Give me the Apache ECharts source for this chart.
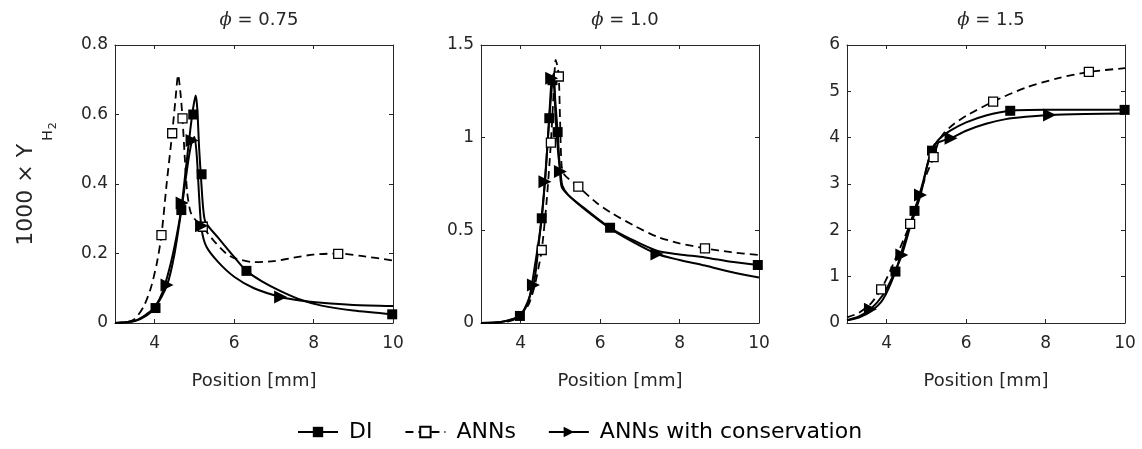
<!DOCTYPE html>
<html>
<head>
<meta charset="utf-8">
<script src="https://cdn.jsdelivr.net/npm/echarts@6/dist/echarts.min.js"></script>
<style>
html,body{margin:0;padding:0;background:#fff;}
#c{width:1142px;height:449px;}
</style>
</head>
<body>
<div id="c"></div>
<script>
// ---------- DATA ----------
const titles = ['0.75', '1.0', '1.5'];
const xTicks = [4, 6, 8, 10];
const yMax = [0.8, 1.5, 6];
const yStep = [0.2, 0.5, 1];
const seriesNames = ['DI', 'ANNs', 'ANNs with conservation'];

// Panel 1: phi = 0.75
const p1DI = [[3,0],[3.5,0.006],[3.8,0.022],[4.0,0.045],[4.2,0.09],[4.4,0.17],[4.55,0.25],[4.67,0.33],[4.8,0.46],[4.9,0.56],[4.97,0.62],[5.03,0.655],[5.07,0.62],[5.12,0.5],[5.17,0.41],[5.22,0.33],[5.28,0.29],[5.6,0.245],[6.0,0.19],[6.31,0.15],[6.7,0.12],[7.17,0.092],[7.7,0.066],[8.2,0.05],[9.0,0.036],[10,0.025]];
const p1ANN = [[3,0],[3.3,0.003],[3.5,0.012],[3.72,0.047],[3.9,0.1],[4.05,0.17],[4.17,0.253],[4.3,0.4],[4.44,0.546],[4.52,0.64],[4.59,0.714],[4.65,0.66],[4.7,0.589],[4.76,0.47],[4.82,0.373],[4.9,0.32],[5.0,0.3],[5.2,0.277],[5.5,0.235],[5.8,0.2],[6.0,0.187],[6.5,0.175],[7.0,0.178],[7.5,0.188],[8.0,0.197],[8.62,0.2],[9.2,0.193],[10,0.18]];
const p1CON = [[3,0],[3.5,0.006],[4.0,0.045],[4.31,0.109],[4.5,0.2],[4.69,0.34],[4.85,0.47],[4.94,0.525],[5.0,0.535],[5.06,0.48],[5.12,0.36],[5.18,0.27],[5.3,0.22],[5.6,0.175],[6.0,0.133],[6.5,0.1],[7.17,0.075],[7.7,0.064],[8.2,0.058],[9.0,0.052],[10,0.049]];
const p1DIm = {x:[4.02,4.67,4.97,5.18,6.31,9.98], y:[0.043,0.325,0.60,0.428,0.15,0.025]};
const p1ANNm = {x:[4.17,4.44,4.70,5.21,8.62], y:[0.253,0.546,0.589,0.277,0.199]};
const p1CONm = {x:[4.31,4.69,4.94,5.18,7.17], y:[0.109,0.345,0.525,0.28,0.075]};

// Panel 2: phi = 1.0
const p2DI = [[3,0],[3.5,0.005],[3.8,0.02],[4.0,0.04],[4.2,0.12],[4.35,0.3],[4.53,0.565],[4.62,0.8],[4.72,1.105],[4.8,1.31],[4.83,1.345],[4.87,1.2],[4.93,1.03],[4.98,0.85],[5.03,0.735],[5.2,0.69],[5.6,0.62],[6.25,0.514],[6.8,0.45],[7.43,0.39],[8.0,0.37],[8.64,0.354],[9.3,0.33],[10,0.313]];
const p2ANN = [[3,0],[3.5,0.004],[3.8,0.015],[4.0,0.045],[4.2,0.1],[4.35,0.2],[4.45,0.3],[4.53,0.394],[4.65,0.65],[4.76,0.973],[4.83,1.25],[4.88,1.42],[4.93,1.38],[4.96,1.33],[4.99,1.1],[5.03,0.85],[5.1,0.8],[5.45,0.736],[5.9,0.65],[6.3,0.592],[6.9,0.52],[7.43,0.466],[8.0,0.43],[8.64,0.403],[9.3,0.382],[10,0.367]];
const p2CON = [[3,0],[3.5,0.005],[4.0,0.045],[4.32,0.205],[4.45,0.42],[4.61,0.762],[4.7,1.05],[4.78,1.32],[4.82,1.33],[4.88,1.1],[4.95,0.9],[5.0,0.817],[5.05,0.74],[5.2,0.69],[5.6,0.615],[6.25,0.51],[6.8,0.44],[7.43,0.372],[8.0,0.34],[8.64,0.31],[9.3,0.275],[10,0.245]];
const p2DIm = {x:[3.98,4.53,4.72,4.80,4.93,6.25,9.97], y:[0.038,0.565,1.105,1.31,1.03,0.514,0.313]};
const p2ANNm = {x:[4.53,4.76,4.96,5.45,8.64], y:[0.394,0.973,1.33,0.736,0.403]};
const p2CONm = {x:[4.32,4.61,4.78,5.0,7.43], y:[0.205,0.762,1.32,0.817,0.372]};

// Panel 3: phi = 1.5
const p3DI = [[3,0.06],[3.3,0.12],[3.6,0.25],[3.9,0.5],[4.22,1.11],[4.45,1.75],[4.7,2.42],[4.9,3.0],[5.05,3.5],[5.14,3.72],[5.3,3.95],[5.6,4.15],[6.0,4.33],[6.5,4.48],[7.11,4.58],[8.0,4.6],[9.0,4.6],[10,4.6]];
const p3ANN = [[3,0.12],[3.3,0.22],[3.6,0.42],[3.86,0.727],[4.1,1.15],[4.35,1.65],[4.59,2.14],[4.8,2.7],[5.0,3.2],[5.18,3.58],[5.3,3.9],[5.43,4.09],[5.7,4.3],[6.0,4.47],[6.68,4.78],[7.5,5.08],[8.3,5.28],[9.09,5.42],[10,5.5]];
const p3CON = [[3,0.06],[3.3,0.14],[3.59,0.295],[3.9,0.6],[4.15,1.0],[4.38,1.47],[4.6,2.1],[4.85,2.76],[5.05,3.5],[5.2,3.85],[5.4,3.93],[5.62,3.99],[6.0,4.15],[6.5,4.3],[7.0,4.4],[7.5,4.45],[8.1,4.49],[9.0,4.51],[10,4.52]];
const p3DIm = {x:[4.22,4.70,5.14,7.11,9.99], y:[1.11,2.42,3.72,4.58,4.6]};
const p3ANNm = {x:[3.86,4.59,5.18,6.68,9.09], y:[0.727,2.14,3.58,4.78,5.42]};
const p3CONm = {x:[3.59,4.38,4.85,5.62,8.10], y:[0.295,1.47,2.76,3.99,4.49]};

const curves = [[p1DI,p1ANN,p1CON],[p2DI,p2ANN,p2CON],[p3DI,p3ANN,p3CON]];
const markers = [[p1DIm,p1ANNm,p1CONm],[p2DIm,p2ANNm,p2CONm],[p3DIm,p3ANNm,p3CONm]];

// ---------- STYLE / LAYOUT ----------
const FONT = 'DejaVu Sans';
const TXT = '#262626';
const gridLeft = [115, 481, 847];
const GT = 45, GW = 278, GH = 278;

const grids = [], xAxes = [], yAxes = [], series = [], titleArr = [];
const lineStyles = [
  {color:'#000', width:2, type:'solid'},
  {color:'#000', width:1.8, type:[8,5]},
  {color:'#000', width:2, type:'solid'}
];
const symInfo = [
  {symbol:'rect', size:10, rotate:0, item:{color:'#000', opacity:1}},
  {symbol:'rect', size:9, rotate:0, item:{color:'#fff', borderColor:'#000', borderWidth:1.3, opacity:1}},
  {symbol:'triangle', size:[13,13], rotate:-90, item:{color:'#000', opacity:1}}
];

for (let p = 0; p < 3; p++) {
  grids.push({left:gridLeft[p], top:GT, width:GW, height:GH, show:false});
  const baseX = {gridIndex:p, type:'value', min:3, max:10,
    axisLine:{show:true, onZero:false, lineStyle:{color:TXT, width:1}},
    axisTick:{show:true, inside:true, length:4, customValues:xTicks, lineStyle:{color:TXT}},
    splitLine:{show:false}};
  xAxes.push(Object.assign({}, baseX, {position:'bottom',
    axisLabel:{show:true, customValues:xTicks, color:TXT, fontFamily:FONT, fontSize:17, margin:12},
    name:'Position [mm]', nameLocation:'middle', nameGap:49,
    nameTextStyle:{color:TXT, fontFamily:FONT, fontSize:18}}));
  xAxes.push(Object.assign({}, baseX, {position:'top', axisLabel:{show:false}}));
  const baseY = {gridIndex:p, type:'value', min:0, max:yMax[p], interval:yStep[p],
    axisLine:{show:true, onZero:false, lineStyle:{color:TXT, width:1}},
    axisTick:{show:true, inside:true, length:4, lineStyle:{color:TXT}},
    splitLine:{show:false}};
  const yl = Object.assign({}, baseY, {position:'left',
    axisLabel:{show:true, color:TXT, fontFamily:FONT, fontSize:17, margin:7}});
  if (p === 0) {
    Object.assign(yl, {
      name:'{a|1000 × Y}{b|H}{c|2}', nameLocation:'middle', nameRotate:90, nameGap:76,
      nameTextStyle:{color:TXT, fontFamily:FONT, fontSize:22,
        rich:{
          a:{fontFamily:FONT, fontSize:22, color:TXT, verticalAlign:'top', lineHeight:24},
          b:{fontFamily:FONT, fontSize:14, color:TXT, verticalAlign:'top', lineHeight:16, padding:[26,0,0,3]},
          c:{fontFamily:FONT, fontSize:11, color:TXT, verticalAlign:'top', lineHeight:12, padding:[33,0,0,1]}
        }}
    });
  }
  yAxes.push(yl);
  yAxes.push(Object.assign({}, baseY, {position:'right', axisLabel:{show:false}}));

  titleArr.push({
    text:'{i|\u03D5} = ' + titles[p],
    left: gridLeft[p] + GW/2, top: 6, textAlign:'center',
    textStyle:{fontFamily:FONT, fontSize:18, fontWeight:'normal', color:TXT,
      rich:{i:{fontFamily:'DejaVu Serif', fontStyle:'italic', fontSize:18, color:TXT}}}
  });

  for (let s = 0; s < 3; s++) {
    series.push({
      name: seriesNames[s], type:'line', xAxisIndex:2*p, yAxisIndex:2*p,
      data: curves[p][s], smooth:0.25, showSymbol:false,
      symbol: symInfo[s].symbol, symbolSize: symInfo[s].size, symbolRotate: symInfo[s].rotate,
      itemStyle: symInfo[s].item, lineStyle: lineStyles[s],
      z: 2, silent:true, animation:false
    });
  }
  for (let s = 0; s < 3; s++) {
    const m = markers[p][s];
    series.push({
      name: seriesNames[s], type:'scatter', xAxisIndex:2*p, yAxisIndex:2*p,
      data: m.x.map((x, i) => [x, m.y[i]]),
      symbol: symInfo[s].symbol, symbolSize: symInfo[s].size, symbolRotate: symInfo[s].rotate,
      itemStyle: symInfo[s].item, z: 3 + s, silent:true, animation:false
    });
  }
}

const chart = echarts.init(document.getElementById('c'), null, {renderer:'canvas'});
chart.setOption({
  animation:false,
  backgroundColor:'#fff',
  title: titleArr,
  grid: grids,
  xAxis: xAxes,
  yAxis: yAxes,
  legend: {
    data: seriesNames, top: 416, left: 292,
    itemWidth: 40, itemHeight: 13, itemGap: 32,
    textStyle:{fontFamily:FONT, fontSize:22, color:'#000', padding:[0,0,0,6]},
    selectedMode:false
  },
  series: series
});
</script>
</body>
</html>
